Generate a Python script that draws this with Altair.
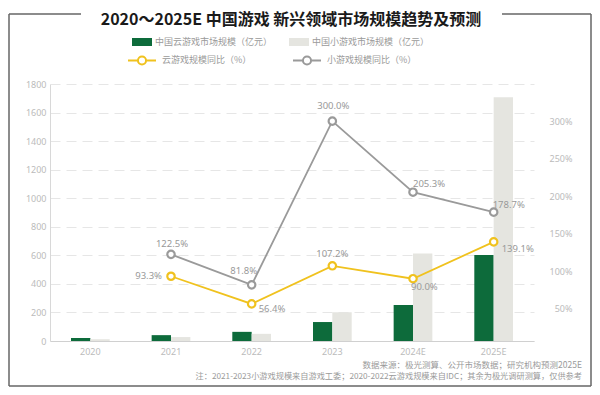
import altair as alt
import pandas as pd

years = ["2020", "2021", "2022", "2023", "2024E", "2025E"]
cloud_size = [21.2, 41.0, 64.1, 132.8, 252.3, 603.2]
mini_size = [12.4, 27.6, 50.2, 200.8, 613.0, 1708.0]

yoy_years = ["2021", "2022", "2023", "2024E", "2025E"]
cloud_yoy = [93.3, 56.4, 107.2, 90.0, 139.1]
mini_yoy = [122.5, 81.8, 300.0, 205.3, 178.7]

bar_series = ["中国云游戏市场规模（亿元）", "中国小游戏市场规模（亿元）"]
line_series = ["云游戏规模同比（%）", "小游戏规模同比（%）"]

left_ticks = [0, 200, 400, 600, 800, 1000, 1200, 1400, 1600, 1800]
right_ticks = [50, 100, 150, 200, 250, 300, 350]

title_text = "2020～2025E 中国游戏 新兴领域市场规模趋势及预测"
note1 = "数据来源：极光测算、公开市场数据；研究机构预测2025E"
note2 = "注：2021-2023小游戏规模来自游戏工委；2020-2022云游戏规模来自IDC；其余为极光调研测算，仅供参考"

GREEN = "#0d6b3b"
LIGHT = "#e5e5e0"
YELLOW = "#f0c21e"
GREYL = "#9a9a9a"
CJK = "Noto Sans CJK SC"
NUM = "Noto Sans"

bars_df = pd.DataFrame({
    "year": years * 2,
    "series": [bar_series[0]] * len(years) + [bar_series[1]] * len(years),
    "value": cloud_size + mini_size,
})
lines_df = pd.DataFrame({
    "year": yoy_years * 2,
    "series": [line_series[0]] * len(yoy_years) + [line_series[1]] * len(yoy_years),
    "value": cloud_yoy + mini_yoy,
})

x_enc = alt.X("year:N", sort=years,
              scale=alt.Scale(domain=years, paddingInner=0.52, paddingOuter=0.26),
              axis=alt.Axis(title=None, labelAngle=0, ticks=False, domainColor="#d0d0d0",
                            labelColor="#bbbbbb", labelFont=NUM, labelFontSize=9,
                            labelPadding=6, grid=False))

bars = alt.Chart(bars_df).mark_bar().encode(
    x=x_enc,
    xOffset=alt.XOffset("series:N", sort=bar_series,
                        scale=alt.Scale(domain=bar_series, paddingInner=0, paddingOuter=0)),
    y=alt.Y("value:Q", scale=alt.Scale(domain=[0, 1800], nice=False),
            axis=alt.Axis(title=None, values=left_ticks, format="d", grid=True, gridDash=[10, 6],
                          gridColor="#e6e6e6", domainColor="#d8d8d8", ticks=False,
                          labelColor="#bbbbbb", labelFont=NUM, labelFontSize=9, labelPadding=4)),
    color=alt.Color("series:N", sort=bar_series,
                    scale=alt.Scale(domain=bar_series, range=[GREEN, LIGHT]),
                    legend=alt.Legend(orient="none", legendX=82, legendY=-52, direction="horizontal",
                                      title=None, symbolType="M-1,-0.4H1V0.4H-1Z", symbolSize=400,
                                      symbolStrokeWidth=0, labelFont=CJK, labelFontSize=9,
                                      labelColor="#9a9a9a", labelOffset=3, columnPadding=16,
                                      padding=0)),
)

y_right = alt.Y("value:Q", scale=alt.Scale(domain=[7, 349.5], nice=False, zero=False),
                axis=alt.Axis(title=None, orient="right", values=right_ticks,
                              labelExpr="datum.value + '%'", domain=False, ticks=False,
                              grid=False, labelAlign="right", labelPadding=38,
                              labelColor="#bbbbbb", labelFont=NUM, labelFontSize=9))

stroke_enc = alt.Stroke("series:N", sort=line_series,
                        scale=alt.Scale(domain=line_series, range=[YELLOW, GREYL]),
                        legend=alt.Legend(orient="none", legendX=77, legendY=-39,
                                          direction="horizontal", title=None,
                                          symbolType="M-1,0H-0.29M0.29,0H1M-0.29,0A0.29,0.29,0,1,1,0.29,0A0.29,0.29,0,1,1,-0.29,0",
                                          symbolSize=784, symbolStrokeWidth=2,
                                          symbolFillColor="white", labelFont=CJK,
                                          labelFontSize=9, labelColor="#9a9a9a",
                                          labelOffset=5, columnPadding=37, padding=0))

base_line = alt.Chart(lines_df)
line = base_line.mark_line(strokeWidth=1.8).encode(x=x_enc, y=y_right, stroke=stroke_enc)
pts = base_line.mark_point(shape="circle", filled=True, fill="white", strokeWidth=2.2,
                           size=55, opacity=1).encode(x=x_enc, y=y_right, stroke=stroke_enc)

placements = [
    (line_series[0], "2021", "right", -9, 0),
    (line_series[0], "2022", "left", 7, 5),
    (line_series[0], "2023", "center", 0, -12),
    (line_series[0], "2024E", "left", -2, 8),
    (line_series[0], "2025E", "left", 8, 7),
    (line_series[1], "2021", "center", 1, -10),
    (line_series[1], "2022", "center", -8, -14),
    (line_series[1], "2023", "center", 1, -15),
    (line_series[1], "2024E", "left", 0, -8),
    (line_series[1], "2025E", "left", -1, -7),
]
label_layers = []
for s, yr, al, dx, dy in placements:
    label_layers.append(
        base_line.transform_filter(
            (alt.datum.series == s) & (alt.datum.year == yr)
        ).transform_calculate(lab="format(datum.value, '.1f') + '%'").mark_text(
            align=al, baseline="middle", dx=dx, dy=dy, fontSize=9.5, font=NUM, color="#999999"
        ).encode(x=x_enc, y=y_right, text="lab:N")
    )

line_layer = alt.layer(line, pts, *label_layers)

one = pd.DataFrame({"k": [0]})
frame_col = "#666666"
def hrule(x1, x2, y):
    return alt.Chart(one).mark_rule(color=frame_col, strokeWidth=1.5).encode(
        x=alt.value(x1), x2=alt.value(x2), y=alt.value(y))
def vrule(x, y1, y2):
    return alt.Chart(one).mark_rule(color=frame_col, strokeWidth=1.5).encode(
        x=alt.value(x), y=alt.value(y1), y2=alt.value(y2))

frame = alt.layer(
    hrule(-41, 31, -70), hrule(452, 541, -70), hrule(-41, 541, 302),
    vrule(-41, -70, 302), vrule(541, -70, 302),
)

texts = alt.layer(
    alt.Chart(one).mark_text(align="center", baseline="middle", fontSize=16, font=CJK,
                             fontWeight="bold", color="#1a1a1a").encode(
        x=alt.value(241), y=alt.value(-64), text=alt.value(title_text)),
    alt.Chart(one).mark_text(align="right", baseline="middle", fontSize=8.5, font=CJK,
                             color="#9a9a9a").encode(x=alt.value(532), y=alt.value(281),
                                                     text=alt.value(note1)),
    alt.Chart(one).mark_text(align="right", baseline="middle", fontSize=8.2, font=CJK,
                             color="#9a9a9a").encode(x=alt.value(532), y=alt.value(293),
                                                     text=alt.value(note2)),
)

chart = alt.layer(bars, line_layer, frame, texts).resolve_scale(
    y="independent", color="independent", stroke="independent"
).properties(
    width=484, height=257,
    padding={"left": 42, "top": 76, "right": 58, "bottom": 46},
    autosize=alt.AutoSizeParams(type="none"),
    background="white",
).configure_view(stroke=None)

chart.save("out.html", embed_options={"renderer": "svg", "actions": False})
